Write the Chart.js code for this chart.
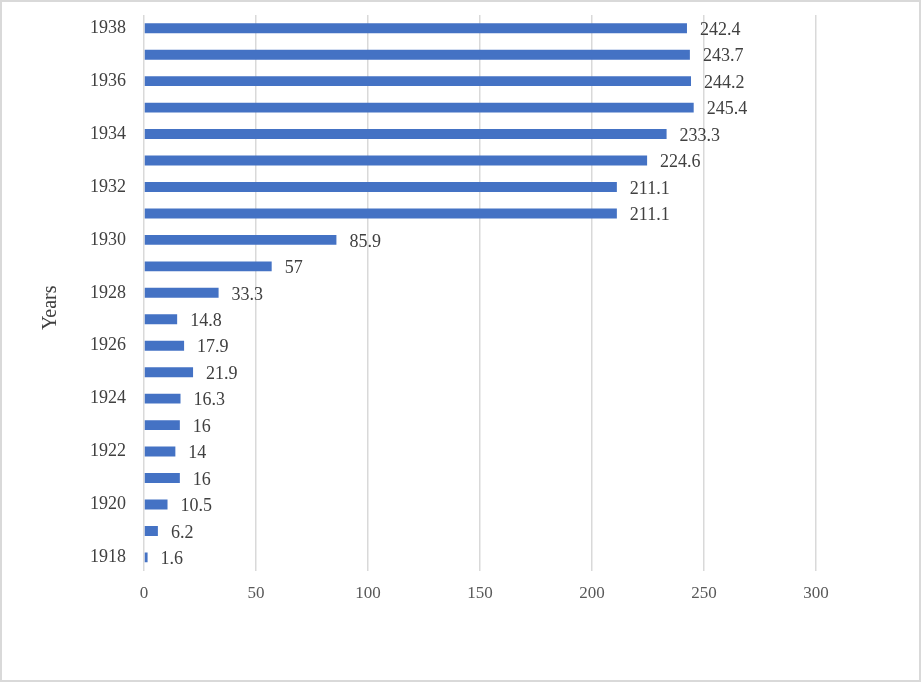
<!DOCTYPE html>
<html>
<head>
<meta charset="utf-8">
<script src="https://cdn.jsdelivr.net/npm/chart.js@4/dist/chart.umd.min.js"></script>
<style>
    html, body { margin: 0; padding: 0; background: #fff; }
    #wrap { position: relative; width: 921px; height: 682px; }
    #chart { display: block; }
    #frame {
        position: absolute;
        left: 0; top: 0;
        width: 921px;
        height: 682px;
        box-sizing: border-box;
        border: 2px solid #d9d9d9;
        pointer-events: none;
    }
</style>
</head>
<body>
<div id="wrap">
    <canvas id="chart" width="921" height="682"></canvas>
    <div id="frame"></div>
</div>
<script>
// Chart data
const years = ['1918', '1919', '1920', '1921', '1922', '1923', '1924', '1925', '1926', '1927',
               '1928', '1929', '1930', '1931', '1932', '1933', '1934', '1935', '1936', '1937', '1938'];
const values = [1.6, 6.2, 10.5, 16, 14, 16, 16.3, 21.9, 17.9, 14.8,
                33.3, 57, 85.9, 211.1, 211.1, 224.6, 233.3, 245.4, 244.2, 243.7, 242.4];
const xTicks = [0, 50, 100, 150, 200, 250, 300];
const yTitle = 'Years';

const FONT = '"Liberation Serif", "Times New Roman", serif';

// Value labels at the end of each bar, plus the rotated axis title
const valueLabels = {
    id: 'valueLabels',
    afterDatasetsDraw(chart) {
        const ctx = chart.ctx;
        const meta = chart.getDatasetMeta(0);
        ctx.save();
        ctx.font = '18px ' + FONT;
        ctx.fillStyle = '#404040';
        ctx.textAlign = 'left';
        ctx.textBaseline = 'middle';
        meta.data.forEach((bar, i) => {
            ctx.fillText(String(values[i]), bar.x + 13, bar.y + 2);
        });

        // axis title, Excel style: a little below the plot's middle
        const area = chart.chartArea;
        ctx.font = '20px ' + FONT;
        ctx.textAlign = 'center';
        ctx.translate(51, (area.top + area.bottom) / 2 + 15);
        ctx.rotate(-Math.PI / 2);
        ctx.fillText(yTitle, 0, 0);
        ctx.restore();
    }
};

new Chart(document.getElementById('chart'), {
    type: 'bar',
    data: {
        labels: years,
        datasets: [{
            data: values,
            backgroundColor: '#4472c4',
            barPercentage: 0.75,
            categoryPercentage: 0.5
        }]
    },
    options: {
        indexAxis: 'y',
        responsive: false,
        animation: false,
        layout: {
            padding: { left: 80, right: 105, top: 15, bottom: 65 }
        },
        plugins: {
            legend: { display: false },
            tooltip: { enabled: false }
        },
        scales: {
            x: {
                min: 0,
                max: 300,
                afterBuildTicks(scale) {
                    scale.ticks = xTicks.map(v => ({ value: v }));
                },
                grid: {
                    color: '#d9d9d9',
                    lineWidth: 1.5,
                    drawTicks: false
                },
                border: { display: false },
                ticks: {
                    color: '#595959',
                    font: { family: FONT, size: 17 },
                    padding: 13
                }
            },
            y: {
                reverse: true,
                afterFit(scale) {
                    // don't let the top label push the plot down
                    scale.paddingTop = 0;
                    scale.paddingBottom = 0;
                },
                grid: { display: false },
                border: { display: false },
                ticks: {
                    autoSkip: false,
                    color: '#404040',
                    font: { family: FONT, size: 18 },
                    padding: 10,
                    callback(value, index) {
                        return index % 2 === 0 ? years[index] : '';
                    }
                }
            }
        }
    },
    plugins: [valueLabels]
});
</script>
</body>
</html>
